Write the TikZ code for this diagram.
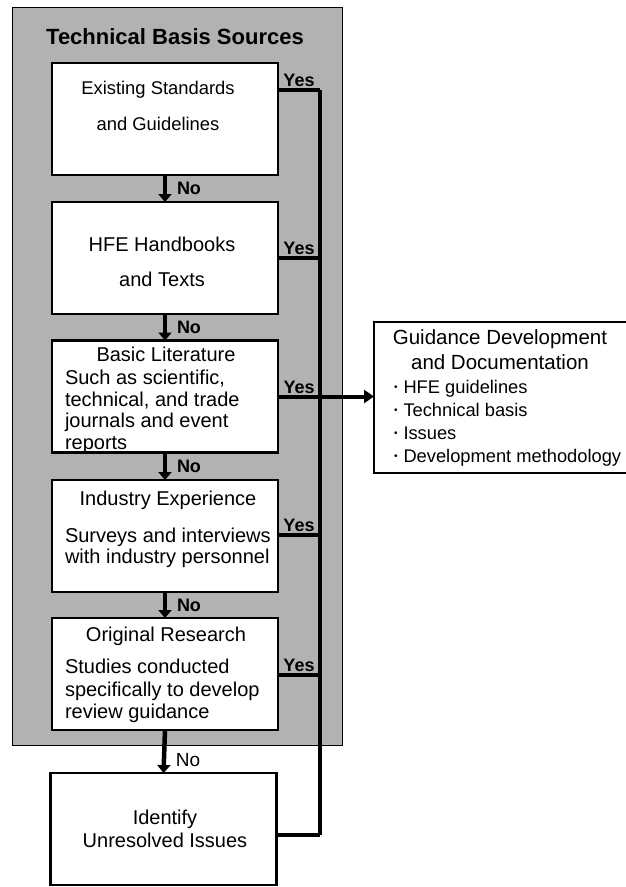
\documentclass[tikz,border=0pt]{standalone}
\usepackage{fontspec}
\setmainfont{Liberation Sans}
\usetikzlibrary{arrows.meta,positioning}
\begin{document}
\begin{tikzpicture}[
        x=1pt,y=-1pt,
        every node/.style={
                inner sep=0pt,outer sep=0pt
            },
        font=\fontsize{20}{22}\selectfont
    ]
    \tikzset  {
        groupbox/.style = {draw=black, line width=1pt, fill=black!30, minimum width=330pt, minimum height=738pt},
        srcbox/.style = {draw=black, line width=2.6pt, fill=white, minimum width=226pt, minimum height=112pt},
        guidebox/.style = {draw=black, line width=2.2pt, fill=white, minimum width=266pt, minimum height=151pt},
        noarrow/.style = {line width=4.5pt, -{Triangle[length=8pt,width=13pt]}},
        yesline/.style = {line width=3.5pt},
        yesarrow/.style = {line width=4pt, -{Triangle[length=10pt,width=13pt]}},
        nolabel/.style = {font=\fontsize{18}{20}\selectfont\bfseries},
        yeslabel/.style = {font=\fontsize{18}{20}\selectfont\bfseries},
    }
    \newcommand{\listdot}{\raisebox{2.5pt}{\fontsize{10}{0}\selectfont•}\hspace{6pt}}
    \clip (0,0) rectangle (626,887);
    % technical basis sources
    \node [groupbox] (basis) at (177,376) {};
    \node [font=\fontsize{22}{24}\selectfont\bfseries, anchor=mid] (title) at (175,42) {Technical Basis Sources};
    \node [srcbox] (stdbox) at (165,119) {};
    \node [srcbox] (hfebox) at (165,258) {};
    \node [srcbox] (litbox) at (165,396.5) {};
    \node [srcbox] (indbox) at (165,536) {};
    \node [srcbox] (resbox) at (165,674) {};
    \node [srcbox] (idbox) at (163.5,829) {};
    \node [guidebox] (guide) at (507,397.5) {};
    % box texts
    \node [anchor=north, align=center, font=\fontsize{18.4}{36}\selectfont] (stdtext) at (158,81) {Existing Standards\\and Guidelines};
    \node [anchor=north, align=center, font=\fontsize{20}{35}\selectfont] (hfetext) at (162,237) {HFE Handbooks\\and Texts};
    \node [anchor=mid] (lithead) at (166,359) {Basic Literature};
    \node [anchor=north west, align=left, font=\fontsize{20}{21.7}\selectfont] (littext) at (65,370)
        {Such as scientific,\\technical, and trade\\journals and event\\reports};
    \node [anchor=mid] (indhead) at (168,503) {Industry Experience};
    \node [anchor=north west, align=left, font=\fontsize{20}{21}\selectfont] (indtext) at (65,528)
        {Surveys and interviews\\with industry personnel};
    \node [anchor=mid] (reshead) at (166,639) {Original Research};
    \node [anchor=north west, align=left, font=\fontsize{20}{22.5}\selectfont] (restext) at (65,659)
        {Studies conducted\\specifically to develop\\review guidance};
    \node [anchor=north, align=center, font=\fontsize{20}{23}\selectfont] (idtext) at (165,810) {Identify\\Unresolved Issues};
    \node [anchor=north, align=center, font=\fontsize{20.5}{25}\selectfont] (guidehead) at (500,330)
        {Guidance Development\\and Documentation};
    \node [anchor=north west, align=left, font=\fontsize{18.3}{23}\selectfont] (guidelist) at (394,380)
        {\listdot HFE guidelines\\
         \listdot Technical basis\\
         \listdot Issues\\
         \listdot Development methodology};
    % no arrows
    \draw [noarrow] (stdbox.south) -- node [nolabel, right=12pt] {No} (hfebox.north);
    \draw [noarrow] (hfebox.south) -- node [nolabel, right=12pt] {No} (litbox.north);
    \draw [noarrow] (litbox.south) -- node [nolabel, right=12pt] {No} (indbox.north);
    \draw [noarrow] (indbox.south) -- node [nolabel, right=12pt] {No} (resbox.north);
    \draw [noarrow] (resbox.south) -- node [pos=0.7, right=12pt, font=\fontsize{19}{20}\selectfont] {No} (idbox.north);
    % yes lines
    \coordinate (yes1) at (320,90);
    \coordinate (yes2) at (320,258);
    \coordinate (yes4) at (320,535);
    \coordinate (yes5) at (320,675);
    \coordinate (yes6) at (320,835);
    \draw [yesline] (yes1) -- (yes6);
    \draw [yesline] (stdbox.east |- yes1) -- node [yeslabel, above=3pt] {Yes} (yes1);
    \draw [yesline] (hfebox.east |- yes2) -- node [yeslabel, above=3pt] {Yes} (yes2);
    \draw [yesline] (indbox.east |- yes4) -- node [yeslabel, above=3pt] {Yes} (yes4);
    \draw [yesline] (resbox.east |- yes5) -- node [yeslabel, above=3pt] {Yes} (yes5);
    \draw [yesline] (idbox.east |- yes6) -- (yes6);
    \draw [yesarrow] (litbox.east) -- node [yeslabel, pos=0.22, above=3pt] {Yes} (guide.west |- litbox.east);
\end{tikzpicture}
\end{document}
